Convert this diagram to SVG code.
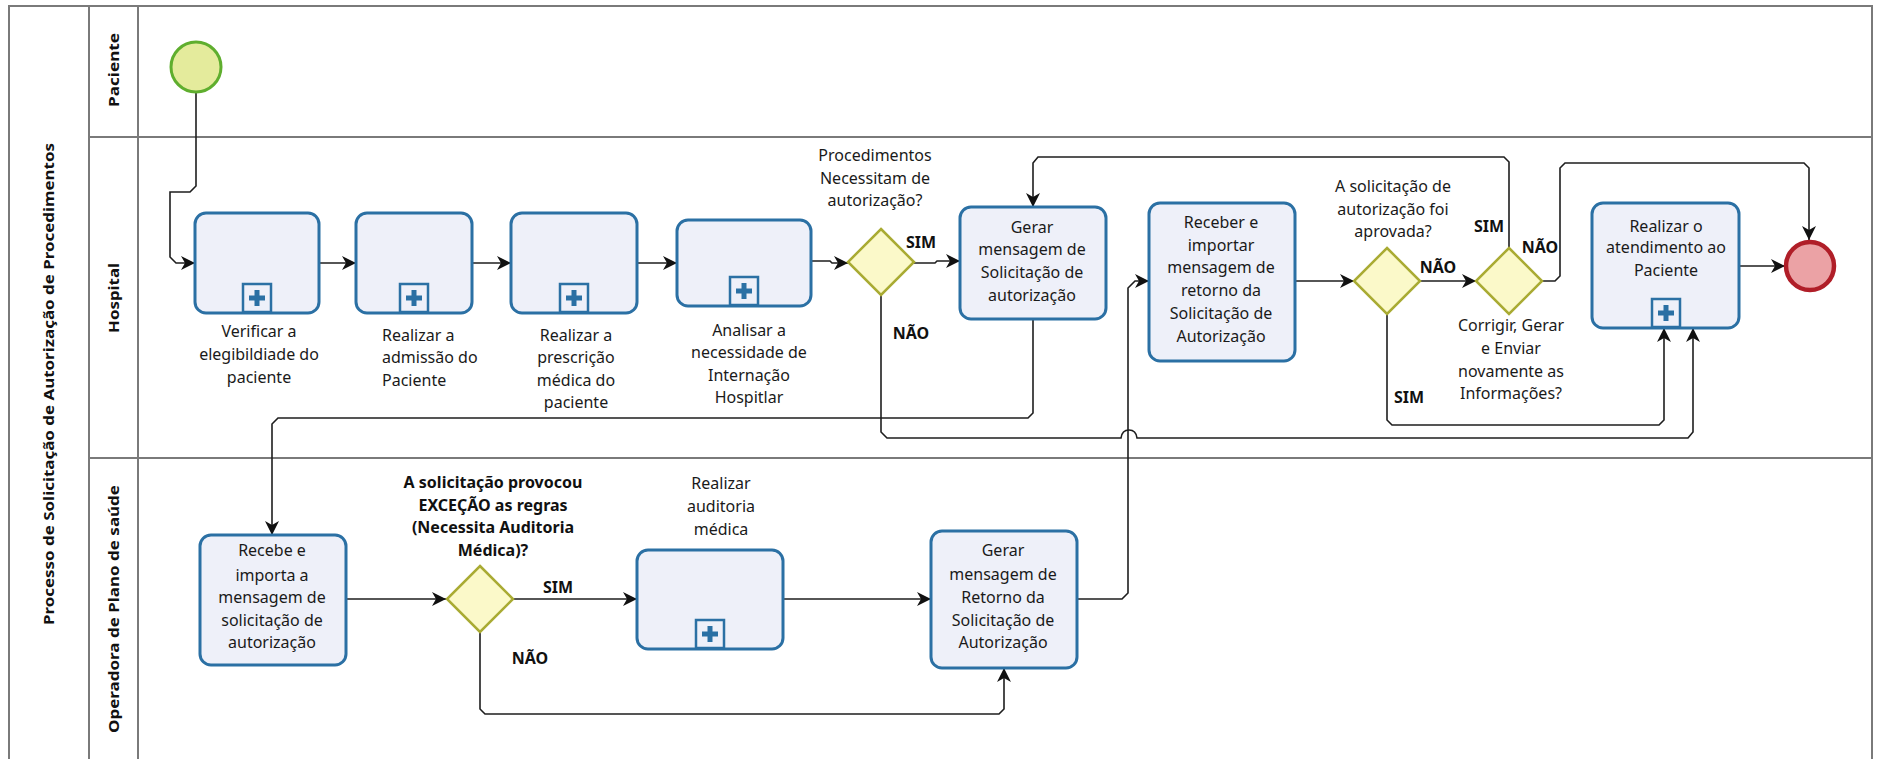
<svg xmlns="http://www.w3.org/2000/svg" width="1878" height="759" viewBox="0 0 1878 759">
<style>
.lane{fill:none;stroke:#7a7a7a;stroke-width:2}
.ttl{font-family:"Noto Sans","DejaVu Sans",sans-serif;font-weight:bold;font-size:15px;fill:#111;text-anchor:middle}
.task{fill:#eef0f9;stroke:#2b70a4;stroke-width:3}
.mk{fill:#eef0f9;stroke:#2b70a4;stroke-width:2.5}
.plus{fill:#2b70a4}
.gw{fill:#fbf9c9;stroke:#a9ab33;stroke-width:2.5}
.t{font-family:"Noto Sans","DejaVu Sans",sans-serif;font-size:16px;fill:#1a1a1a;text-anchor:middle}
.ts{font-family:"Noto Sans","DejaVu Sans",sans-serif;font-size:16px;fill:#1a1a1a;text-anchor:start}
.b{font-family:"Noto Sans","DejaVu Sans",sans-serif;font-size:16px;font-weight:bold;fill:#111;text-anchor:middle}
.c{fill:none;stroke:#1e1e1e;stroke-width:1.6}
</style>
<defs>
<marker id="arr" viewBox="0 0 14 14" refX="14" refY="7" markerWidth="14" markerHeight="14" markerUnits="userSpaceOnUse" orient="auto">
<path d="M0,0 L14,7 L0,14 L4,7 z" fill="#111"/>
</marker>
<g id="sub">
<rect x="-14" y="-29" width="28" height="28" class="mk"/>
<rect x="-8" y="-17.5" width="16" height="5" class="plus"/>
<rect x="-2.5" y="-23" width="5" height="16" class="plus"/>
</g>
</defs>
<rect width="1878" height="759" fill="#ffffff"/>

<g id="pool">
<rect x="9" y="6" width="1863" height="770" class="lane"/>
<line x1="89" y1="6" x2="89" y2="759" class="lane"/>
<line x1="138" y1="6" x2="138" y2="759" class="lane"/>
<line x1="89" y1="137" x2="1872" y2="137" class="lane"/>
<line x1="89" y1="458" x2="1872" y2="458" class="lane"/>
<text class="ttl" transform="translate(54,384) rotate(-90)" textLength="482" lengthAdjust="spacingAndGlyphs">Processo de Solicitação de Autorização de Procedimentos</text>
<text class="ttl" transform="translate(119,70) rotate(-90)" textLength="74" lengthAdjust="spacingAndGlyphs">Paciente</text>
<text class="ttl" transform="translate(119,298) rotate(-90)" textLength="70" lengthAdjust="spacingAndGlyphs">Hospital</text>
<text class="ttl" transform="translate(119,609) rotate(-90)" textLength="248" lengthAdjust="spacingAndGlyphs">Operadora de Plano de saúde</text>
</g>

<g id="connectors">
<path class="c" marker-end="url(#arr)" d="M196,92 V186 L190,192 H170 V257 L176,263 H195"/>
<path class="c" marker-end="url(#arr)" d="M319,263 H356"/>
<path class="c" marker-end="url(#arr)" d="M472,263 H511"/>
<path class="c" marker-end="url(#arr)" d="M637,263 H677"/>
<path class="c" marker-end="url(#arr)" d="M811,261 H830 L832,263 H848"/>
<path class="c" marker-end="url(#arr)" d="M914,263 H935 L937,261 H960"/>
<path class="c" marker-end="url(#arr)" d="M881,295 V432 L887,438 H1121 Q1122,430 1129,430 Q1136,430 1137,438 H1688 L1693,432 V328"/>
<path class="c" marker-end="url(#arr)" d="M1033,319 V413 L1028,418 H278 L272,424 V535"/>
<path class="c" marker-end="url(#arr)" d="M1509,248 V162 L1504,157 H1038 L1033,163 V207"/>
<path class="c" marker-end="url(#arr)" d="M1295,281 H1354"/>
<path class="c" marker-end="url(#arr)" d="M1420,281 H1476"/>
<path class="c" marker-end="url(#arr)" d="M1387,314 V420 L1392,425 H1659 L1664,420 V328"/>
<path class="c" marker-end="url(#arr)" d="M1542,281 H1555 L1560,276 V168 L1565,163 H1804 L1809,168 V240"/>
<path class="c" marker-end="url(#arr)" d="M1739,266 H1785"/>
<path class="c" marker-end="url(#arr)" d="M346,599 H446"/>
<path class="c" marker-end="url(#arr)" d="M513,599 H637"/>
<path class="c" marker-end="url(#arr)" d="M480,632 V709 L485,714 H999 L1004,709 V668"/>
<path class="c" marker-end="url(#arr)" d="M783,599 H931"/>
<path class="c" marker-end="url(#arr)" d="M1077,599 H1122 L1128,593 V288 L1135,281 H1149"/>
<text class="b" x="921" y="248">SIM</text>
<text class="b" x="911" y="339">NÃO</text>
<text class="b" x="1438" y="273">NÃO</text>
<text class="b" x="1489" y="232">SIM</text>
<text class="b" x="1540" y="253">NÃO</text>
<text class="b" x="1409" y="403">SIM</text>
<text class="b" x="558" y="593">SIM</text>
<text class="b" x="530" y="664">NÃO</text>
</g>

<g id="start"><circle cx="196" cy="67" r="25" fill="#e4eb9c" stroke="#5fae2e" stroke-width="3"/></g>
<g id="end"><circle cx="1810" cy="266" r="24" fill="#eba2a5" stroke="#b01e28" stroke-width="4.5"/></g>

<g id="t1">
<rect x="195" y="213" width="124" height="100" rx="11" class="task"/>
<use href="#sub" x="257" y="313"/>
<text class="t" x="259" y="337">Verificar a</text>
<text class="t" x="259" y="360">elegibildiade do</text>
<text class="t" x="259" y="383">paciente</text>
</g>
<g id="t2">
<rect x="356" y="213" width="116" height="100" rx="11" class="task"/>
<use href="#sub" x="414" y="313"/>
<text class="ts" x="382" y="341">Realizar a</text>
<text class="ts" x="382" y="363">admissão do</text>
<text class="ts" x="382" y="386">Paciente</text>
</g>
<g id="t3">
<rect x="511" y="213" width="126" height="100" rx="11" class="task"/>
<use href="#sub" x="574" y="313"/>
<text class="t" x="576" y="341">Realizar a</text>
<text class="t" x="576" y="363">prescrição</text>
<text class="t" x="576" y="386">médica do</text>
<text class="t" x="576" y="408">paciente</text>
</g>
<g id="t4">
<rect x="677" y="220" width="134" height="86" rx="11" class="task"/>
<use href="#sub" x="744" y="306"/>
<text class="t" x="749" y="336">Analisar a</text>
<text class="t" x="749" y="358">necessidade de</text>
<text class="t" x="749" y="381">Internação</text>
<text class="t" x="749" y="403">Hospitlar</text>
</g>
<g id="g1">
<path d="M881,229 L914,262 L881,295 L848,262 z" class="gw"/>
<text class="t" x="875" y="161">Procedimentos</text>
<text class="t" x="875" y="184">Necessitam de</text>
<text class="t" x="875" y="206">autorização?</text>
</g>
<g id="t5">
<rect x="960" y="207" width="146" height="112" rx="11" class="task"/>
<text class="t" x="1032" y="233">Gerar</text>
<text class="t" x="1032" y="255">mensagem de</text>
<text class="t" x="1032" y="278">Solicitação de</text>
<text class="t" x="1032" y="301">autorização</text>
</g>
<g id="t6">
<rect x="1149" y="203" width="146" height="158" rx="11" class="task"/>
<text class="t" x="1221" y="228">Receber e</text>
<text class="t" x="1221" y="251">importar</text>
<text class="t" x="1221" y="273">mensagem de</text>
<text class="t" x="1221" y="296">retorno da</text>
<text class="t" x="1221" y="319">Solicitação de</text>
<text class="t" x="1221" y="342">Autorização</text>
</g>
<g id="g2">
<path d="M1387,248 L1420,281 L1387,314 L1354,281 z" class="gw"/>
<text class="t" x="1393" y="192">A solicitação de</text>
<text class="t" x="1393" y="215">autorização foi</text>
<text class="t" x="1393" y="237">aprovada?</text>
</g>
<g id="g3">
<path d="M1509,248 L1542,281 L1509,314 L1476,281 z" class="gw"/>
<text class="t" x="1511" y="331">Corrigir, Gerar</text>
<text class="t" x="1511" y="354">e Enviar</text>
<text class="t" x="1511" y="377">novamente as</text>
<text class="t" x="1511" y="399">Informações?</text>
</g>
<g id="t7">
<rect x="1592" y="203" width="147" height="125" rx="11" class="task"/>
<use href="#sub" x="1666" y="328"/>
<text class="t" x="1666" y="232">Realizar o</text>
<text class="t" x="1666" y="253">atendimento ao</text>
<text class="t" x="1666" y="276">Paciente</text>
</g>
<g id="t8">
<rect x="200" y="535" width="146" height="130" rx="11" class="task"/>
<text class="t" x="272" y="556">Recebe e</text>
<text class="t" x="272" y="581">importa a</text>
<text class="t" x="272" y="603">mensagem de</text>
<text class="t" x="272" y="626">solicitação de</text>
<text class="t" x="272" y="648">autorização</text>
</g>
<g id="g4">
<path d="M480,566 L513,599 L480,632 L447,599 z" class="gw"/>
<text class="b" x="493" y="488">A solicitação provocou</text>
<text class="b" x="493" y="511">EXCEÇÃO as regras</text>
<text class="b" x="493" y="533">(Necessita Auditoria</text>
<text class="b" x="493" y="556">Médica)?</text>
</g>
<g id="t9">
<rect x="637" y="550" width="146" height="99" rx="11" class="task"/>
<use href="#sub" x="710" y="649"/>
<text class="t" x="721" y="489">Realizar</text>
<text class="t" x="721" y="512">auditoria</text>
<text class="t" x="721" y="535">médica</text>
</g>
<g id="t10">
<rect x="931" y="531" width="146" height="137" rx="11" class="task"/>
<text class="t" x="1003" y="556">Gerar</text>
<text class="t" x="1003" y="580">mensagem de</text>
<text class="t" x="1003" y="603">Retorno da</text>
<text class="t" x="1003" y="626">Solicitação de</text>
<text class="t" x="1003" y="648">Autorização</text>
</g>
</svg>
